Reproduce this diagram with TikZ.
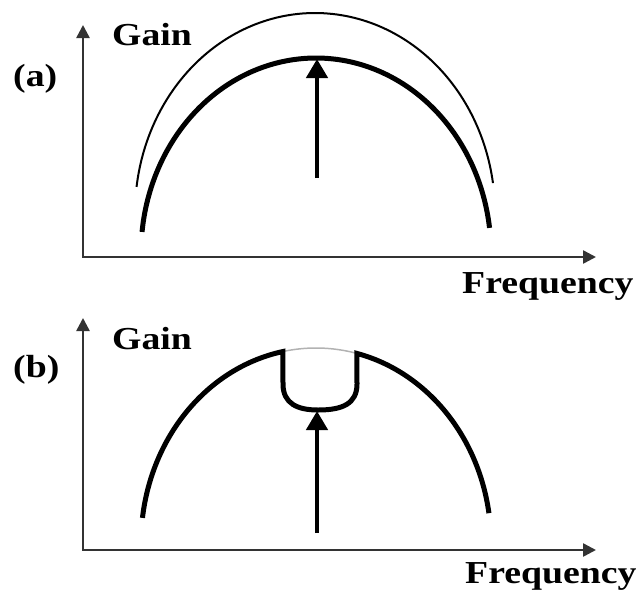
\documentclass[tikz,border=0pt]{standalone}
\usepackage{fontspec}
\setmainfont{Liberation Serif}
\usetikzlibrary{arrows.meta}
\begin{document}
\begin{tikzpicture}[x=1pt,y=-1pt,
  axisline/.style={line width=2.5pt, draw=black!80, {Triangle[width=13pt,length=13pt]}-{Triangle[width=13pt,length=13pt]}},
  gaincurve/.style={line width=5pt},
  thincurve/.style={line width=2pt},
  sigarrow/.style={line width=4.5pt, -{Triangle[width=21pt,length=19pt]}},
  lbl/.style={font=\fontsize{32}{38}\selectfont\bfseries, inner sep=0pt, anchor=base west},
  ghost/.style={line width=1.5pt, draw=black!30}]
\useasboundingbox (0,0) rectangle (639,592);

% ---------- panel (a) ----------
\coordinate (ya) at (83,25);
\coordinate (oa) at (83,257);
\coordinate (xa) at (596,257);
\draw[axisline] (ya) -- (oa) -- (xa);

\draw[thincurve] plot[domain=187.5:351.4, samples=120] ({315+180*cos(\x)},{213+200*sin(\x)});
\draw[gaincurve] plot[domain=186.2:352.6, samples=120] ({316+175*cos(\x)},{253+195*sin(\x)});

\coordinate (sa0) at (317,178);
\coordinate (sa1) at (317,59);
\draw[sigarrow] (sa0) -- (sa1);

\node[lbl] (gaina) at (112,45) {\scalebox{1.18}[1]{Gain}};
\node[lbl] (tagA) at (13,86) {\scalebox{1.18}[1]{(a)}};
\node[lbl] (freqa) at (462,293) {\scalebox{1.18}[1]{Frequency}};

% ---------- panel (b) ----------
\coordinate (yb) at (83,318);
\coordinate (ob) at (83,550);
\coordinate (xb) at (596,550);
\draw[axisline] (yb) -- (ob) -- (xb);

\draw[ghost] plot[domain=259.1:283.5, samples=40] ({316+175*cos(\x)},{543+195*sin(\x)});
\draw[gaincurve] plot[domain=187.4:259.1, samples=100] ({316+175*cos(\x)},{543+195*sin(\x)})
  -- (283,384) .. controls (283,404) and (298,410) .. (318,410)
  .. controls (342,410) and (357,404) .. (357,384)
  -- plot[domain=283.5:351.2, samples=100] ({316+175*cos(\x)},{543+195*sin(\x)});

\coordinate (sb0) at (317,533);
\coordinate (sb1) at (317,411);
\draw[sigarrow] (sb0) -- (sb1);

\node[lbl] (gainb) at (112,349) {\scalebox{1.18}[1]{Gain}};
\node[lbl] (tagB) at (13,377) {\scalebox{1.18}[1]{(b)}};
\node[lbl] (freqb) at (465,583) {\scalebox{1.18}[1]{Frequency}};
\end{tikzpicture}
\end{document}
